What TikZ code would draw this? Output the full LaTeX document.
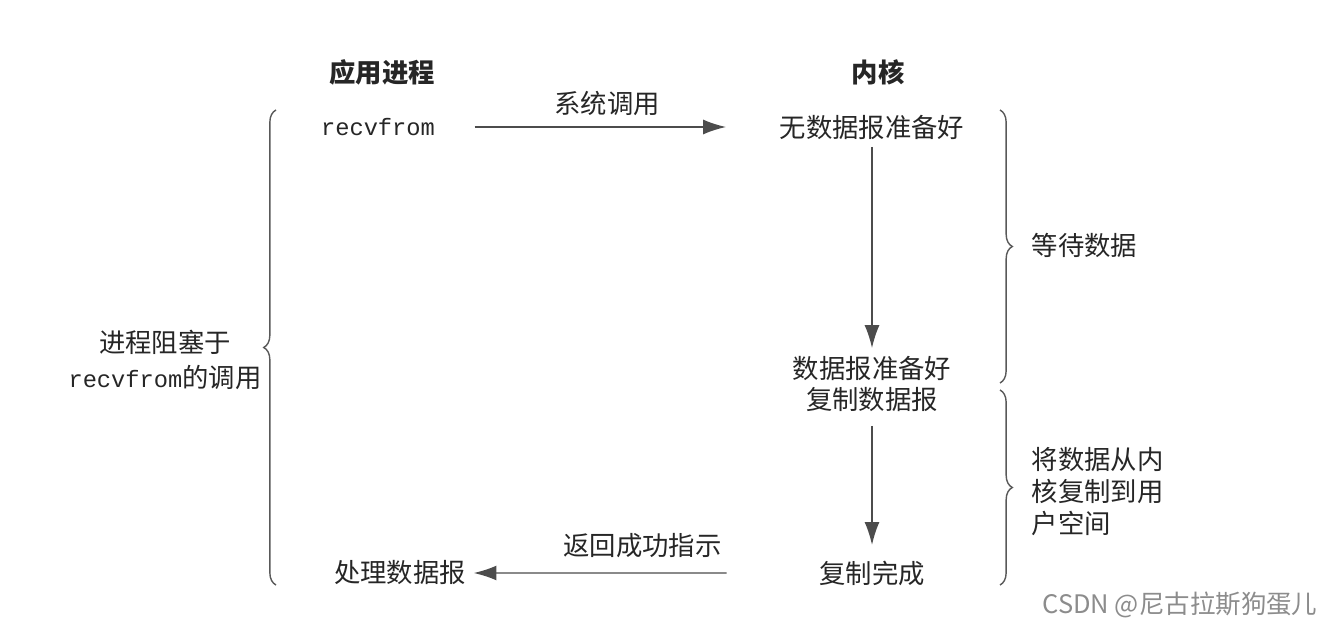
\documentclass[tikz,border=0pt]{standalone}
\usepackage{fontspec}
\setmainfont{Noto Sans CJK SC}
\setmonofont{Liberation Mono}
\newfontfamily\wmfont{Noto Sans CJK SC}
\usepackage{tikz}
\usetikzlibrary{positioning,arrows.meta,decorations.pathreplacing}

\tikzset{
  txt/.style={inner sep=4pt,font=\fontsize{15}{18}\selectfont,text=black!85},
  hdr/.style={txt,font=\fontsize{15}{18}\selectfont\bfseries},
  code/.style={txt,font=\fontsize{13.5}{18}\ttfamily},
  bracebox/.style={draw=black!65,line width=0.8pt,decorate,
    decoration={brace,amplitude=7pt}}
}

\begin{document}
\begin{tikzpicture}[node distance=2cm,on grid,auto,
    >={Latex[length=13pt,width=8.5pt]},line width=0.8pt,
    every edge/.append style={draw=black!70}]
    \useasboundingbox (0,0) rectangle (26.78,12.58);
    % columns
    \node[hdr] (App) at (7.64,11.14) {应用进程};
    \node[hdr] (Kern) at (17.56,11.14) {内核};
    \node[code] (Recv) at (7.56,10.04) {recvfrom};
    \node[txt] (NoData) at (17.44,10.04) {无数据报准备好};
    \node[txt] (Ready) [below = 4.82cm of NoData] {数据报准备好};
    \node[txt] (Copy) [below = 0.64cm of Ready] {复制数据报};
    \node[txt] (Done) [below = 3.46cm of Copy] {复制完成};
    \node[txt] (Proc) at (8.0,1.12) {处理数据报};
    \path[->]
    (Recv.east)
    edge [shorten <=0.64cm,shorten >=0.92cm] node [txt,above=2pt] {系统调用} (NoData.west)
    (NoData)
    edge [] (Ready)
    (Copy)
    edge [shorten <=0.12cm,shorten >=0.16cm] (Done)
    (Done.west)
    edge [shorten <=1.7cm] node [txt,above=4pt,swap] {返回成功指示} (Proc.east)
    ;
    % braces
    \coordinate (LTop) at (5.52,10.38);
    \coordinate (LBot) at (5.52,0.88);
    \coordinate (WTop) at (20.0,10.38);
    \coordinate (WBot) at (20.0,4.92);
    \coordinate (CTop) at (20.0,4.78);
    \coordinate (CBot) at (20.0,0.88);
    \draw[bracebox] (LBot) -- (LTop);
    \draw[bracebox] (WTop) -- (WBot);
    \draw[bracebox] (CTop) -- (CBot);
    \node[txt,align=center,font=\fontsize{15}{20}\selectfont] (Block) at (3.3,5.38)
      {进程阻塞于\\{\fontsize{13.5}{20}\ttfamily recvfrom}的调用};
    \node[txt,anchor=west] (Wait) at (20.48,7.68) {等待数据};
    \node[txt,anchor=west,align=left,font=\fontsize{15}{18.2}\selectfont] (ToUser) at (20.48,2.74)
      {将数据从内\\核复制到用\\户空间};
    \node[text=black!45,font=\wmfont\fontsize{14.5}{16}\selectfont] (Mark) at (23.6,0.48)
      {CSDN @尼古拉斯狗蛋儿};
\end{tikzpicture}
\end{document}
